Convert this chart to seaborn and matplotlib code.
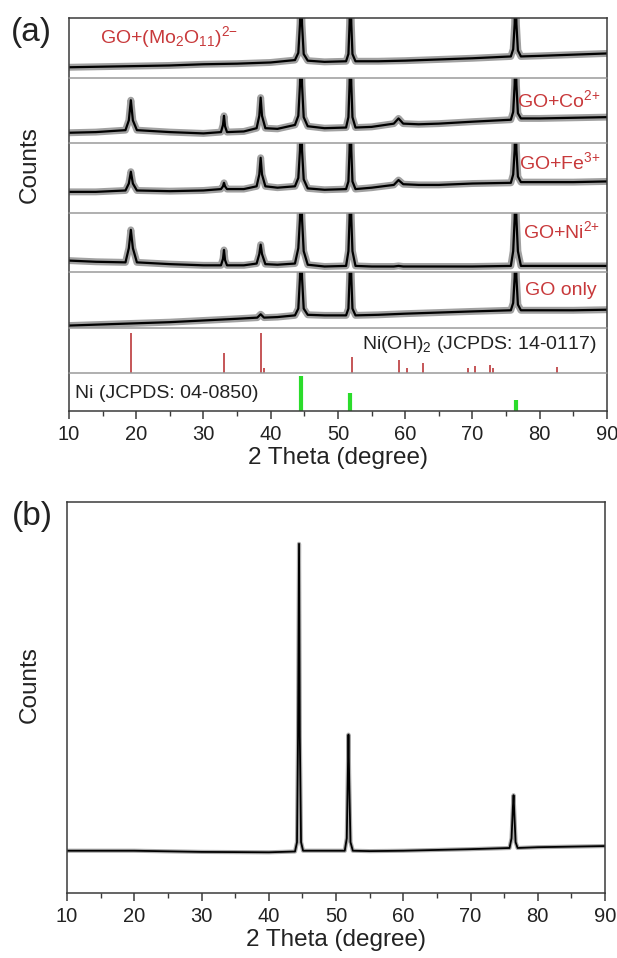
import matplotlib
matplotlib.use("Agg")
import matplotlib.pyplot as plt
from matplotlib.ticker import MultipleLocator
import seaborn as sns

# ---------------- data (panel heights normalised to 1) ----------------
ang_mo = [10, 15, 20, 25, 30, 35, 40, 43.6, 44.1, 44.35, 44.5, 44.65, 44.9, 45.5, 48,
          51.2, 51.55, 51.72, 51.85, 51.98, 52.15, 52.6, 56, 60, 65, 70,
          75.7, 76.05, 76.27, 76.4, 76.53, 76.75, 77.2, 80, 85, 90]
cnt_mo = [0.18, 0.19, 0.20, 0.21, 0.23, 0.24, 0.26, 0.30, 0.42, 0.90, 1.60, 0.90, 0.40, 0.29, 0.27,
          0.28, 0.40, 0.90, 1.60, 0.90, 0.40, 0.28, 0.28, 0.29, 0.31, 0.33,
          0.36, 0.48, 0.90, 1.60, 0.90, 0.46, 0.36, 0.37, 0.39, 0.41]

ang_ion = [10, 14, 18.4, 18.9, 19.2, 19.5, 20.1, 25, 30, 32.6, 32.9, 33.05, 33.2, 33.5, 36,
           37.9, 38.3, 38.5, 38.7, 39.2, 41, 43.6, 44.1, 44.35, 44.5, 44.65, 44.9, 45.5, 48,
           51.2, 51.55, 51.72, 51.85, 51.98, 52.15, 52.6, 55, 58.3, 59.0, 59.7, 62, 65, 70,
           75.7, 76.05, 76.27, 76.4, 76.53, 76.75, 77.2, 80, 85, 90]
cnt_co = [0.16, 0.17, 0.20, 0.35, 0.66, 0.35, 0.20, 0.17, 0.15, 0.17, 0.28, 0.42, 0.26, 0.17, 0.18,
          0.23, 0.42, 0.70, 0.42, 0.23, 0.22, 0.28, 0.42, 0.90, 1.60, 0.90, 0.40, 0.26, 0.23,
          0.24, 0.40, 0.90, 1.60, 0.90, 0.40, 0.24, 0.25, 0.30, 0.38, 0.30, 0.29, 0.30, 0.33,
          0.36, 0.48, 0.90, 1.60, 0.90, 0.46, 0.38, 0.38, 0.39, 0.40]
cnt_fe = [0.30, 0.30, 0.32, 0.42, 0.59, 0.42, 0.32, 0.31, 0.32, 0.34, 0.38, 0.43, 0.38, 0.34, 0.34,
          0.38, 0.55, 0.79, 0.55, 0.38, 0.36, 0.38, 0.50, 0.90, 1.60, 0.90, 0.48, 0.35, 0.33,
          0.34, 0.45, 0.90, 1.60, 0.90, 0.45, 0.34, 0.36, 0.40, 0.47, 0.41, 0.40, 0.40, 0.42,
          0.43, 0.55, 0.90, 1.60, 0.90, 0.52, 0.44, 0.44, 0.44, 0.45]
cnt_ni = [0.19, 0.17, 0.16, 0.40, 0.71, 0.40, 0.16, 0.13, 0.11, 0.11, 0.22, 0.37, 0.20, 0.11, 0.11,
          0.14, 0.30, 0.46, 0.30, 0.13, 0.12, 0.14, 0.40, 0.90, 1.60, 0.90, 0.35, 0.12, 0.09,
          0.10, 0.35, 0.90, 1.60, 0.90, 0.35, 0.10, 0.09, 0.09, 0.10, 0.09, 0.09, 0.09, 0.09,
          0.10, 0.35, 0.90, 1.60, 0.90, 0.35, 0.10, 0.10, 0.10, 0.10]

ang_go = [10, 15, 20, 25, 30, 35, 38.0, 38.5, 39.0, 41, 43.6, 44.1, 44.35, 44.5, 44.65, 44.9, 45.5, 48,
          51.2, 51.55, 51.72, 51.85, 51.98, 52.15, 52.6, 56, 60, 65, 70,
          75.7, 76.05, 76.27, 76.4, 76.53, 76.75, 77.2, 80, 85, 90]
cnt_go = [0.05, 0.07, 0.09, 0.11, 0.14, 0.17, 0.19, 0.25, 0.19, 0.20, 0.23, 0.35, 0.90, 1.60, 0.90, 0.35, 0.24, 0.23,
          0.23, 0.35, 0.90, 1.60, 0.90, 0.35, 0.23, 0.24, 0.26, 0.28, 0.30,
          0.32, 0.45, 0.90, 1.60, 0.90, 0.42, 0.32, 0.32, 0.32, 0.33]

nioh_pos = [19.2, 33.1, 38.5, 39.0, 52.1, 59.0, 60.2, 62.7, 69.3, 70.4, 72.6, 73.0, 82.5]
nioh_int = [0.89, 0.44, 0.89, 0.11, 0.36, 0.29, 0.11, 0.22, 0.12, 0.16, 0.18, 0.11, 0.13]
ni_pos = [44.5, 51.85, 76.4]
ni_int = [0.92, 0.47, 0.29]

ang_b = [10, 20, 30, 40, 43.9, 44.2, 44.35, 44.5, 44.62, 44.8, 45.1, 47,
         51.3, 51.6, 51.75, 51.85, 51.97, 52.15, 52.5, 55, 60, 70,
         75.8, 76.1, 76.3, 76.4, 76.52, 76.7, 77.0, 80, 90]
cnt_b = [0.108, 0.108, 0.105, 0.104, 0.106, 0.13, 0.40, 0.893, 0.40, 0.13, 0.108, 0.108,
         0.108, 0.14, 0.30, 0.405, 0.28, 0.13, 0.108, 0.107, 0.108, 0.112,
         0.115, 0.14, 0.22, 0.25, 0.20, 0.13, 0.115, 0.117, 0.12]

sample_labels = ["GO+(Mo$_2$O$_{11}$)$^{2{-}}$", "GO+Co$^{2{+}}$", "GO+Fe$^{3{+}}$",
                 "GO+Ni$^{2{+}}$", "GO only"]
nioh_label = "Ni(OH)$_2$ (JCPDS: 14-0117)"
ni_label = "Ni (JCPDS: 04-0850)"
x_ticks = [10, 20, 30, 40, 50, 60, 70, 80, 90]

# ---------------- style ----------------
sns.set_theme(style="ticks")
plt.rcParams['font.family'] = ['Liberation Sans', 'DejaVu Sans']
plt.rcParams['mathtext.fontset'] = 'custom'
plt.rcParams['mathtext.rm'] = 'Liberation Sans'
plt.rcParams['mathtext.default'] = 'regular'

RED = "#c8393b"
STICK_RED = "#c0484a"
GREEN = "#2bdc2b"
FRAME = "#3a3a3a"
INNER = "#9a9a9a"
TXT = "#222222"

fig = plt.figure(figsize=(6.17, 9.58), dpi=100)
gs = fig.add_gridspec(7, 1, left=0.1118, right=0.9838, top=0.9812, bottom=0.571,
                      hspace=0, height_ratios=[60, 65, 69.5, 59, 56.5, 44.5, 38])
axes = [fig.add_subplot(gs[i]) for i in range(7)]

series = [(ang_mo, cnt_mo), (ang_ion, cnt_co), (ang_ion, cnt_fe), (ang_ion, cnt_ni), (ang_go, cnt_go)]
for i, (xa, ya) in enumerate(series):
    sns.lineplot(x=xa, y=ya, ax=axes[i], color="#444444", lw=5.0, alpha=0.5,
                 estimator=None, sort=False)
    sns.lineplot(x=xa, y=ya, ax=axes[i], color="black", lw=1.6, estimator=None, sort=False)

axes[5].vlines(nioh_pos, 0, nioh_int, colors=STICK_RED, lw=1.3)
axes[6].vlines(ni_pos, 0, ni_int, colors=GREEN, lw=3.0)

for i, ax in enumerate(axes):
    ax.set_xlim(10, 90)
    ax.set_ylim(0, 1)
    ax.set_yticks([])
    ax.set_ylabel("")
    for s in ("left", "right"):
        ax.spines[s].set_color(FRAME)
        ax.spines[s].set_linewidth(1.1)
    ax.spines["top"].set_color(FRAME if i == 0 else INNER)
    ax.spines["top"].set_linewidth(1.1)
    if i < 6:
        ax.spines["bottom"].set_visible(False)
        ax.tick_params(bottom=False, labelbottom=False, left=False)
    else:
        ax.spines["bottom"].set_color(FRAME)
        ax.spines["bottom"].set_linewidth(1.1)

# label positions
txt = dict(color=RED, fontsize=14)
axes[0].text(0.058, 0.68, sample_labels[0], transform=axes[0].transAxes, ha="left", va="center", **txt)
axes[1].text(0.988, 0.66, sample_labels[1], transform=axes[1].transAxes, ha="right", va="center", **txt)
axes[2].text(0.988, 0.73, sample_labels[2], transform=axes[2].transAxes, ha="right", va="center", **txt)
axes[3].text(0.988, 0.68, sample_labels[3], transform=axes[3].transAxes, ha="right", va="center", **txt)
axes[4].text(0.980, 0.67, sample_labels[4], transform=axes[4].transAxes, ha="right", va="center", **txt)
axes[5].text(0.981, 0.63, nioh_label, transform=axes[5].transAxes, ha="right", va="center",
             color=TXT, fontsize=14)
axes[6].text(0.011, 0.47, ni_label, transform=axes[6].transAxes, ha="left", va="center",
             color=TXT, fontsize=14)

def style_xaxis(ax):
    ax.set_xticks(x_ticks)
    ax.xaxis.set_minor_locator(MultipleLocator(5))
    ax.tick_params(axis="x", which="major", direction="out", length=6, width=1.1,
                   color=FRAME, labelsize=14.5, pad=4, labelcolor=TXT)
    ax.tick_params(axis="x", which="minor", direction="out", length=3.5, width=1.0,
                   color=FRAME, bottom=True)
    ax.set_xlabel("2 Theta (degree)", fontsize=17.5, color=TXT, labelpad=2)

style_xaxis(axes[6])

fig.text(30 / 617, 1 - 165 / 958, "Counts", rotation=90, ha="center", va="center",
         fontsize=17.5, color=TXT)
fig.text(31 / 617, 1 - 33 / 958, "(a)", ha="center", va="center", fontsize=24, color=TXT)

# ---------------- panel (b) ----------------
axb = fig.add_axes([0.1086, 0.0679, 0.872, 0.4081])
sns.lineplot(x=ang_b, y=cnt_b, ax=axb, color="#444444", lw=3.0, alpha=0.45,
             estimator=None, sort=False)
sns.lineplot(x=ang_b, y=cnt_b, ax=axb, color="black", lw=1.3, estimator=None, sort=False)
axb.set_xlim(10, 90)
axb.set_ylim(0, 1)
axb.set_yticks([])
axb.set_ylabel("")
for s in axb.spines.values():
    s.set_color(FRAME)
    s.set_linewidth(1.1)
style_xaxis(axb)
fig.text(30 / 617, 1 - 685 / 958, "Counts", rotation=90, ha="center", va="center",
         fontsize=17.5, color=TXT)
fig.text(32 / 617, 1 - 516 / 958, "(b)", ha="center", va="center", fontsize=24, color=TXT)

fig.savefig("out.png", dpi=100)
